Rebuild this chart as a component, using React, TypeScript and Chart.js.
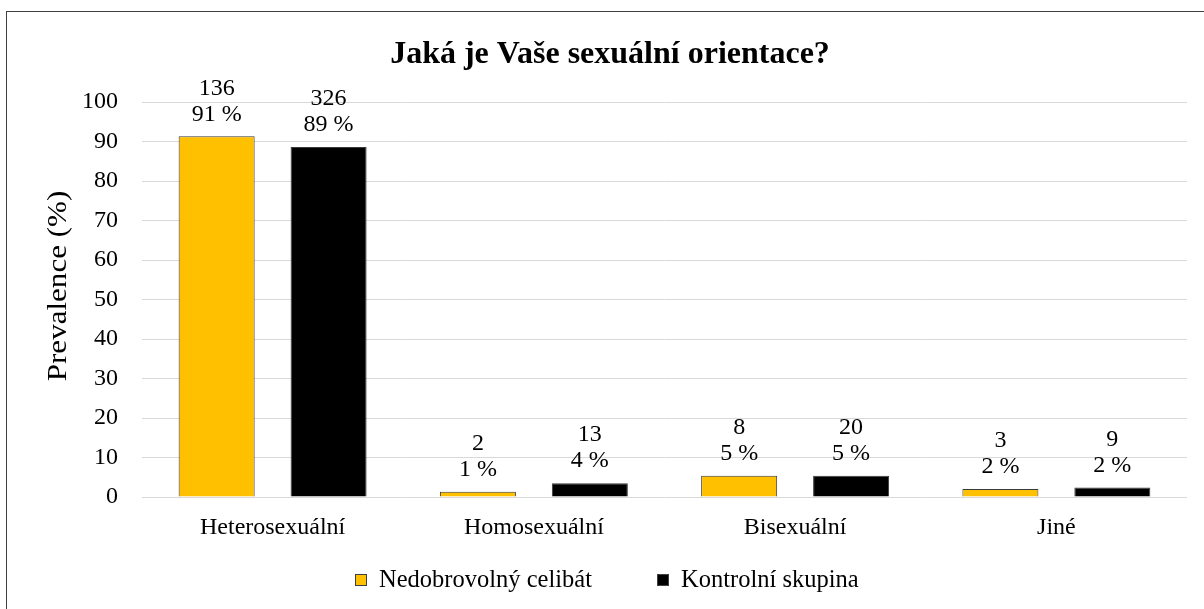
import React, { useEffect, useRef } from "react";
import { Chart, registerables } from "chart.js";

Chart.register(...registerables);

// ---- data ----
const categories = ["Heterosexuální", "Homosexuální", "Bisexuální", "Jiné"];
const seriesNames = ["Nedobrovolný celibát", "Kontrolní skupina"];
const celibacyPercent = [91.3, 1.3, 5.4, 2.0];
const controlPercent = [88.6, 3.5, 5.4, 2.4];
const celibacyCounts = ["136", "2", "8", "3"];
const controlCounts = ["326", "13", "20", "9"];
const celibacyLabels = ["91 %", "1 %", "5 %", "2 %"];
const controlLabels = ["89 %", "4 %", "5 %", "2 %"];
const seriesColors = ["#FFC000", "#000000"];
const chartTitle = "Jaká je Vaše sexuální orientace?";
const yAxisTitle = "Prevalence (%)";
const yMin = 0;
const yMax = 100;
const yStep = 10;

// ---- layout ----
const CSS_W = 1206;
const IW = CSS_W;
const IH = 597;
const FONT = "'Liberation Serif', 'Times New Roman', Times, serif";
const px = (pageX: number) => pageX - 7;
const py = (pageY: number) => pageY - 12;

const F_TITLE = 32;
const F_TICK = 24;
const F_CAT = 24;
const F_LEG = 24.5;
const F_LAB = 24;
const F_YT = 27;
const YT_STRETCH = 1.15;
const SIDE_PAD = 26;
const legendBoxPageX = [355, 657];

const countsBySeries = [celibacyCounts, controlCounts];
const labelsBySeries = [celibacyLabels, controlLabels];

const labelsPlugin = {
  id: "barLabels",
  afterDatasetsDraw(chart: any) {
    const ctx = chart.ctx;
    ctx.save();
    ctx.fillStyle = "#000";
    ctx.textAlign = "center";
    ctx.textBaseline = "middle";
    ctx.font = `${F_LAB}px ${FONT}`;
    chart.data.datasets.forEach((_ds: any, di: number) => {
      const meta = chart.getDatasetMeta(di);
      meta.data.forEach((bar: any, i: number) => {
        const { x, y } = bar.getProps(["x", "y"], true);
        ctx.fillText(countsBySeries[di][i], x, y - 48);
        ctx.fillText(labelsBySeries[di][i], x, y - 22);
      });
    });
    ctx.restore();
  },
};

const extrasPlugin = {
  id: "extras",
  afterDraw(chart: any) {
    const ctx = chart.ctx;
    ctx.save();
    // y axis title
    ctx.fillStyle = "#000";
    ctx.font = `${F_YT}px ${FONT}`;
    ctx.textAlign = "center";
    ctx.textBaseline = "middle";
    ctx.translate(px(59), py(286));
    ctx.rotate(-Math.PI / 2);
    ctx.scale(YT_STRETCH, 1);
    ctx.fillText(yAxisTitle, 0, 0);
    ctx.restore();

    // legend
    ctx.save();
    ctx.font = `${F_LEG}px ${FONT}`;
    ctx.textBaseline = "middle";
    ctx.textAlign = "left";
    const boxW = 12;
    const boxH = 12;
    const gap = 24;
    const cy = py(580);
    seriesNames.forEach((n, i) => {
      const x = px(legendBoxPageX[i]);
      ctx.fillStyle = seriesColors[i];
      ctx.fillRect(x, cy - boxH / 2, boxW, boxH);
      ctx.strokeStyle = "#404040";
      ctx.lineWidth = 1;
      ctx.strokeRect(x + 0.5, cy - boxH / 2 + 0.5, boxW - 1, boxH - 1);
      ctx.fillStyle = "#000";
      ctx.fillText(n, x + gap, cy + 1);
    });
    ctx.restore();
  },
};

export default function App() {
  const ref = useRef<HTMLCanvasElement>(null);
  useEffect(() => {
    const canvas = ref.current!;
    canvas.width = IW;
    canvas.height = IH;
    const plotLeft = px(142);
    const plotRight = px(1187);
    const plotTop = py(102);
    const plotBottom = py(497);
    const titleLH = F_TITLE * 1.2;
    const titlePadTop = py(55) - titleLH / 2;
    const titlePadBottom = plotTop - titlePadTop - titleLH;
    const padBottom = 70;
    const catPad = py(528) - plotBottom - (F_CAT * 1.2) / 2;
    const chart = new Chart(canvas, {
      type: "bar",
      data: {
        labels: categories,
        datasets: [
          {
            label: seriesNames[0],
            data: celibacyPercent,
            backgroundColor: seriesColors[0],
            borderColor: "#3a3a3a",
            borderWidth: 1,
            categoryPercentage: 0.857,
            barPercentage: 0.679,
          },
          {
            label: seriesNames[1],
            data: controlPercent,
            backgroundColor: seriesColors[1],
            borderColor: "#3a3a3a",
            borderWidth: 1,
            categoryPercentage: 0.857,
            barPercentage: 0.679,
          },
        ],
      },
      options: {
        responsive: false,
        maintainAspectRatio: false,
        devicePixelRatio: 1,
        animation: false,
        layout: {
          padding: { left: SIDE_PAD, right: IW - plotRight, top: 0, bottom: padBottom },
        },
        plugins: {
          legend: { display: false },
          tooltip: { enabled: false },
          title: {
            display: true,
            text: chartTitle,
            color: "#000",
            font: { family: FONT, size: F_TITLE, weight: "bold" },
            padding: { top: titlePadTop, bottom: titlePadBottom },
          },
        },
        scales: {
          x: {
            grid: { display: false, drawTicks: false },
            border: { display: false },
            ticks: {
              color: "#000",
              font: { family: FONT, size: F_CAT },
              padding: catPad,
              maxRotation: 0,
              autoSkip: false,
            },
            afterFit: (s: any) => {
              s.height = IH - padBottom - plotBottom;
            },
          },
          y: {
            min: yMin,
            max: yMax,
            grid: { color: "#d9d9d9", lineWidth: 1, drawTicks: false },
            border: { display: false },
            ticks: {
              stepSize: yStep,
              color: "#000",
              font: { family: FONT, size: F_TICK },
              padding: 24,
            },
            afterFit: (s: any) => {
              s.width = plotLeft - SIDE_PAD;
            },
          },
        },
      },
      plugins: [labelsPlugin, extrasPlugin],
    });
    return () => chart.destroy();
  }, []);
  return (
    <div
      style={{
        position: "fixed",
        left: 0,
        top: 0,
        width: 1204,
        height: 609,
        overflow: "hidden",
        background: "#fff",
      }}
    >
      <div
        style={{
          position: "absolute",
          left: 6,
          top: 11,
          width: 1400,
          height: 900,
          border: "1.5px solid #404040",
          boxSizing: "border-box",
        }}
      />
      <canvas
        ref={ref}
        width={IW}
        height={IH}
        style={{ position: "absolute", left: 7, top: 12, width: CSS_W, height: IH }}
      />
    </div>
  );
}
